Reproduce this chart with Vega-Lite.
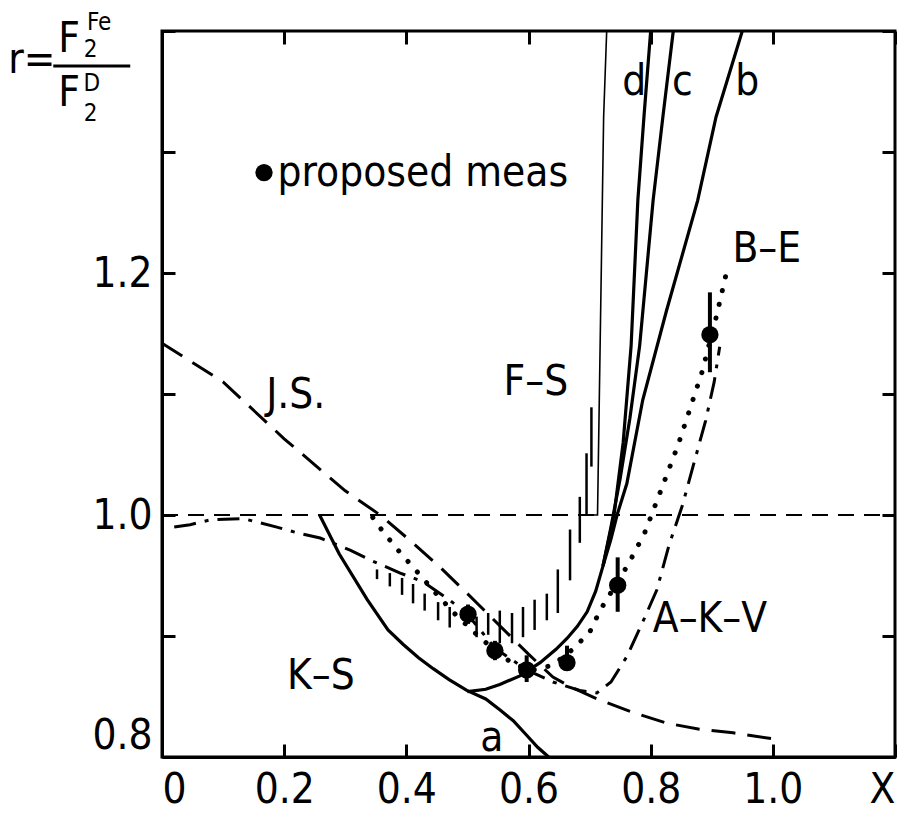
{
  "$schema": "https://vega.github.io/schema/vega-lite/v6.json",
  "autosize": "none",
  "width": 733,
  "height": 726,
  "padding": {"left": 162, "top": 31, "right": 9, "bottom": 62},
  "background": "white",
  "config": {
    "view": {"stroke": "black", "strokeWidth": 3},
    "axis": {"grid": false, "domainColor": "black", "domainWidth": 3, "tickColor": "black", "tickWidth": 3, "tickSize": -13, "labelColor": "black", "labelFont": "Liberation Sans Narrow, DejaVu Sans Condensed, Liberation Sans", "labelFontSize": 42, "title": null, "labelOverlap": false, "labelFlush": true},
    "text": {"font": "Liberation Sans Narrow, DejaVu Sans Condensed, Liberation Sans", "color": "black"}
  },
  "datasets": {
    "curves": [
      {"s": "KS", "i": 0, "x": 0.258, "y": 1.0}, {"s": "KS", "i": 1, "x": 0.29, "y": 0.968}, {"s": "KS", "i": 2, "x": 0.336, "y": 0.93}, {"s": "KS", "i": 3, "x": 0.37, "y": 0.905}, {"s": "KS", "i": 4, "x": 0.395, "y": 0.893}, {"s": "KS", "i": 5, "x": 0.42, "y": 0.882}, {"s": "KS", "i": 6, "x": 0.444, "y": 0.873}, {"s": "KS", "i": 7, "x": 0.47, "y": 0.864}, {"s": "KS", "i": 8, "x": 0.499, "y": 0.855}, {"s": "KS", "i": 9, "x": 0.53, "y": 0.848}, {"s": "KS", "i": 10, "x": 0.553, "y": 0.839}, {"s": "KS", "i": 11, "x": 0.575, "y": 0.83}, {"s": "KS", "i": 12, "x": 0.597, "y": 0.818}, {"s": "KS", "i": 13, "x": 0.615, "y": 0.808}, {"s": "KS", "i": 14, "x": 0.633, "y": 0.8},
      {"s": "b", "i": 0, "x": 0.5, "y": 0.854}, {"s": "b", "i": 1, "x": 0.53, "y": 0.856}, {"s": "b", "i": 2, "x": 0.553, "y": 0.86}, {"s": "b", "i": 3, "x": 0.586, "y": 0.867}, {"s": "b", "i": 4, "x": 0.619, "y": 0.878}, {"s": "b", "i": 5, "x": 0.645, "y": 0.889}, {"s": "b", "i": 6, "x": 0.663, "y": 0.898}, {"s": "b", "i": 7, "x": 0.68, "y": 0.908}, {"s": "b", "i": 8, "x": 0.696, "y": 0.92}, {"s": "b", "i": 9, "x": 0.71, "y": 0.937}, {"s": "b", "i": 10, "x": 0.722, "y": 0.958}, {"s": "b", "i": 11, "x": 0.735, "y": 0.98}, {"s": "b", "i": 12, "x": 0.745, "y": 1.0}, {"s": "b", "i": 13, "x": 0.761, "y": 1.026}, {"s": "b", "i": 14, "x": 0.787, "y": 1.095}, {"s": "b", "i": 15, "x": 0.826, "y": 1.169}, {"s": "b", "i": 16, "x": 0.877, "y": 1.26}, {"s": "b", "i": 17, "x": 0.907, "y": 1.329}, {"s": "b", "i": 18, "x": 0.95, "y": 1.4},
      {"s": "c", "i": 0, "x": 0.722, "y": 0.958}, {"s": "c", "i": 1, "x": 0.735, "y": 0.99}, {"s": "c", "i": 2, "x": 0.75, "y": 1.03}, {"s": "c", "i": 3, "x": 0.766, "y": 1.08}, {"s": "c", "i": 4, "x": 0.782, "y": 1.14}, {"s": "c", "i": 5, "x": 0.804, "y": 1.26}, {"s": "c", "i": 6, "x": 0.82, "y": 1.329}, {"s": "c", "i": 7, "x": 0.837, "y": 1.4},
      {"s": "d", "i": 0, "x": 0.722, "y": 0.958}, {"s": "d", "i": 1, "x": 0.74, "y": 1.0}, {"s": "d", "i": 2, "x": 0.755, "y": 1.06}, {"s": "d", "i": 3, "x": 0.768, "y": 1.14}, {"s": "d", "i": 4, "x": 0.779, "y": 1.26}, {"s": "d", "i": 5, "x": 0.789, "y": 1.329}, {"s": "d", "i": 6, "x": 0.8, "y": 1.4}
    ],
    "thin": [
      {"i": 0, "x": 0.697, "y": 1.0}, {"i": 1, "x": 0.713, "y": 1.0}, {"i": 2, "x": 0.723, "y": 1.329}, {"i": 3, "x": 0.728, "y": 1.4}
    ],
    "js": [
      {"i": 0, "x": 0.0, "y": 1.142}, {"i": 1, "x": 0.1, "y": 1.11}, {"i": 2, "x": 0.2, "y": 1.063}, {"i": 3, "x": 0.3, "y": 1.02}, {"i": 4, "x": 0.357, "y": 1.0}, {"i": 5, "x": 0.406, "y": 0.979}, {"i": 6, "x": 0.455, "y": 0.957}, {"i": 7, "x": 0.5, "y": 0.935}, {"i": 8, "x": 0.534, "y": 0.918}, {"i": 9, "x": 0.57, "y": 0.9}, {"i": 10, "x": 0.6, "y": 0.885}, {"i": 11, "x": 0.64, "y": 0.866}, {"i": 12, "x": 0.673, "y": 0.857}, {"i": 13, "x": 0.717, "y": 0.847}, {"i": 14, "x": 0.77, "y": 0.837}, {"i": 15, "x": 0.826, "y": 0.828}, {"i": 16, "x": 0.88, "y": 0.823}, {"i": 17, "x": 0.935, "y": 0.82}, {"i": 18, "x": 1.0, "y": 0.815}
    ],
    "akv": [
      {"i": 0, "x": 0.02, "y": 0.99}, {"i": 1, "x": 0.046, "y": 0.992}, {"i": 2, "x": 0.079, "y": 0.996}, {"i": 3, "x": 0.133, "y": 0.997}, {"i": 4, "x": 0.188, "y": 0.99}, {"i": 5, "x": 0.223, "y": 0.985}, {"i": 6, "x": 0.259, "y": 0.981}, {"i": 7, "x": 0.308, "y": 0.971}, {"i": 8, "x": 0.34, "y": 0.963}, {"i": 9, "x": 0.39, "y": 0.952}, {"i": 10, "x": 0.427, "y": 0.945}, {"i": 11, "x": 0.47, "y": 0.93}, {"i": 12, "x": 0.5, "y": 0.918}, {"i": 13, "x": 0.545, "y": 0.89}, {"i": 14, "x": 0.597, "y": 0.872}, {"i": 15, "x": 0.64, "y": 0.862}, {"i": 16, "x": 0.684, "y": 0.855}, {"i": 17, "x": 0.712, "y": 0.853}, {"i": 18, "x": 0.735, "y": 0.862}, {"i": 19, "x": 0.761, "y": 0.883}, {"i": 20, "x": 0.79, "y": 0.915}, {"i": 21, "x": 0.81, "y": 0.938}, {"i": 22, "x": 0.83, "y": 0.975}, {"i": 23, "x": 0.852, "y": 1.008}, {"i": 24, "x": 0.872, "y": 1.045}, {"i": 25, "x": 0.89, "y": 1.078}, {"i": 26, "x": 0.904, "y": 1.11}, {"i": 27, "x": 0.913, "y": 1.139}
    ],
    "be": [
      {"i": 0, "x": 0.345, "y": 0.998}, {"i": 1, "x": 0.362, "y": 0.986}, {"i": 2, "x": 0.393, "y": 0.967}, {"i": 3, "x": 0.411, "y": 0.957}, {"i": 4, "x": 0.447, "y": 0.936}, {"i": 5, "x": 0.48, "y": 0.918}, {"i": 6, "x": 0.52, "y": 0.899}, {"i": 7, "x": 0.55, "y": 0.886}, {"i": 8, "x": 0.578, "y": 0.876}, {"i": 9, "x": 0.61, "y": 0.872}, {"i": 10, "x": 0.64, "y": 0.876}, {"i": 11, "x": 0.67, "y": 0.888}, {"i": 12, "x": 0.7, "y": 0.903}, {"i": 13, "x": 0.717, "y": 0.921}, {"i": 14, "x": 0.74, "y": 0.94}, {"i": 15, "x": 0.763, "y": 0.959}, {"i": 16, "x": 0.79, "y": 0.985}, {"i": 17, "x": 0.815, "y": 1.018}, {"i": 18, "x": 0.845, "y": 1.058}, {"i": 19, "x": 0.871, "y": 1.098}, {"i": 20, "x": 0.884, "y": 1.118}, {"i": 21, "x": 0.908, "y": 1.165}, {"i": 22, "x": 0.923, "y": 1.198}
    ],
    "unity": [{"i": 0, "x": 0.0, "y": 1.0}, {"i": 1, "x": 1.2, "y": 1.0}],
    "hatch": [
      {"x": 0.352, "lo": 0.947, "hi": 0.955}, {"x": 0.373, "lo": 0.941, "hi": 0.952}, {"x": 0.393, "lo": 0.934, "hi": 0.948}, {"x": 0.411, "lo": 0.927, "hi": 0.943}, {"x": 0.43, "lo": 0.921, "hi": 0.935}, {"x": 0.452, "lo": 0.913, "hi": 0.928}, {"x": 0.471, "lo": 0.907, "hi": 0.924}, {"x": 0.515, "lo": 0.899, "hi": 0.916}, {"x": 0.534, "lo": 0.901, "hi": 0.919}, {"x": 0.553, "lo": 0.894, "hi": 0.921}, {"x": 0.573, "lo": 0.894, "hi": 0.919}, {"x": 0.591, "lo": 0.899, "hi": 0.924}, {"x": 0.61, "lo": 0.905, "hi": 0.93}, {"x": 0.63, "lo": 0.913, "hi": 0.935}, {"x": 0.648, "lo": 0.919, "hi": 0.955}, {"x": 0.668, "lo": 0.946, "hi": 0.988}, {"x": 0.684, "lo": 0.977, "hi": 1.015}, {"x": 0.695, "lo": 1.0, "hi": 1.051}, {"x": 0.703, "lo": 1.04, "hi": 1.089}
    ],
    "meas": [
      {"x": 0.501, "y": 0.918, "lo": 0.91, "hi": 0.926}, {"x": 0.545, "y": 0.888, "lo": 0.88, "hi": 0.896}, {"x": 0.597, "y": 0.872, "lo": 0.862, "hi": 0.884}, {"x": 0.663, "y": 0.878, "lo": 0.872, "hi": 0.892}, {"x": 0.746, "y": 0.942, "lo": 0.92, "hi": 0.965}, {"x": 0.897, "y": 1.149, "lo": 1.118, "hi": 1.184}, {"x": 0.167, "y": 1.283, "lo": 1.283, "hi": 1.283}
    ],
    "labels": [
      {"x": 0.427, "y": 1.283, "t": "proposed meas"},
      {"x": 0.219, "y": 1.099, "t": "J.S."},
      {"x": 0.612, "y": 1.11, "t": "F–S"},
      {"x": 0.26, "y": 0.867, "t": "K–S"},
      {"x": 0.897, "y": 0.914, "t": "A–K–V"},
      {"x": 0.99, "y": 1.22, "t": "B–E"},
      {"x": 0.54, "y": 0.816, "t": "a"},
      {"x": 0.958, "y": 1.358, "t": "b"},
      {"x": 0.852, "y": 1.358, "t": "c"},
      {"x": 0.773, "y": 1.358, "t": "d"},
      {"x": -0.213, "y": 1.376, "t": "r="},
      {"x": -0.152, "y": 1.393, "t": "F"},
      {"x": -0.152, "y": 1.349, "t": "F"}
    ],
    "small": [
      {"x": -0.117, "y": 1.384, "t": "2"},
      {"x": -0.103, "y": 1.407, "t": "Fe"},
      {"x": -0.117, "y": 1.331, "t": "2"},
      {"x": -0.115, "y": 1.356, "t": "D"}
    ],
    "bar": [{"x": -0.178, "x2": -0.052, "y": 1.371}]
  },
  "layer": [
    {
      "data": {"name": "unity"},
      "mark": {"type": "line", "stroke": "black", "strokeWidth": 2, "strokeDash": [16, 10]},
      "encoding": {
        "x": {"field": "x", "type": "quantitative", "scale": {"domain": [0, 1.2], "nice": false, "zero": false}, "axis": {"orient": "bottom", "values": [0, 0.2, 0.4, 0.6, 0.8, 1.0, 1.2], "labelPadding": 25, "labelExpr": "datum.value == 1.2 ? 'X' : (datum.value == 0 ? '0' : format(datum.value, '.1f'))"}},
        "y": {"field": "y", "type": "quantitative", "scale": {"domain": [0.8, 1.4], "nice": false, "zero": false}, "axis": {"orient": "left", "values": [0.8, 0.9, 1.0, 1.1, 1.2, 1.3, 1.4], "labelPadding": 23, "labelExpr": "(abs(datum.value - 0.8) < 0.001 || abs(datum.value - 1.0) < 0.001 || abs(datum.value - 1.2) < 0.001) ? format(datum.value, '.1f') : ''"}},
        "order": {"field": "i"}
      }
    },
    {
      "data": {"name": "js"},
      "mark": {"type": "line", "stroke": "black", "strokeWidth": 3, "strokeDash": [24, 12]},
      "encoding": {
        "x": {"field": "x", "type": "quantitative", "axis": {"orient": "top", "values": [0, 0.2, 0.4, 0.6, 0.8, 1.0, 1.2], "labels": false, "domain": false}},
        "y": {"field": "y", "type": "quantitative", "axis": {"orient": "right", "values": [0.8, 0.9, 1.0, 1.1, 1.2, 1.3, 1.4], "labels": false, "domain": false}},
        "order": {"field": "i"}
      }
    },
    {
      "data": {"name": "akv"},
      "mark": {"type": "line", "stroke": "black", "strokeWidth": 3, "strokeDash": [22, 9, 4, 9]},
      "encoding": {
        "x": {"field": "x", "type": "quantitative", "axis": null},
        "y": {"field": "y", "type": "quantitative", "axis": null},
        "order": {"field": "i"}
      }
    },
    {
      "data": {"name": "be"},
      "mark": {"type": "line", "stroke": "black", "strokeWidth": 5, "strokeCap": "round", "strokeDash": [0.1, 14]},
      "encoding": {
        "x": {"field": "x", "type": "quantitative", "axis": null},
        "y": {"field": "y", "type": "quantitative", "axis": null},
        "order": {"field": "i"}
      }
    },
    {
      "data": {"name": "curves"},
      "mark": {"type": "line", "stroke": "black", "strokeWidth": 3.2, "clip": true},
      "encoding": {
        "x": {"field": "x", "type": "quantitative", "axis": null},
        "y": {"field": "y", "type": "quantitative", "axis": null},
        "detail": {"field": "s"},
        "order": {"field": "i"}
      }
    },
    {
      "data": {"name": "thin"},
      "mark": {"type": "line", "stroke": "black", "strokeWidth": 1.6},
      "encoding": {
        "x": {"field": "x", "type": "quantitative", "axis": null},
        "y": {"field": "y", "type": "quantitative", "axis": null},
        "order": {"field": "i"}
      }
    },
    {
      "data": {"name": "hatch"},
      "mark": {"type": "rule", "stroke": "black", "strokeWidth": 2.5},
      "encoding": {
        "x": {"field": "x", "type": "quantitative", "axis": null},
        "y": {"field": "lo", "type": "quantitative", "axis": null},
        "y2": {"field": "hi"}
      }
    },
    {
      "data": {"name": "meas"},
      "mark": {"type": "rule", "stroke": "black", "strokeWidth": 4},
      "encoding": {
        "x": {"field": "x", "type": "quantitative", "axis": null},
        "y": {"field": "lo", "type": "quantitative", "axis": null},
        "y2": {"field": "hi"}
      }
    },
    {
      "data": {"name": "meas"},
      "mark": {"type": "point", "filled": true, "color": "black", "opacity": 1, "size": 300},
      "encoding": {
        "x": {"field": "x", "type": "quantitative", "axis": null},
        "y": {"field": "y", "type": "quantitative", "axis": null}
      }
    },
    {
      "data": {"name": "labels"},
      "mark": {"type": "text", "fontSize": 42, "align": "center", "baseline": "middle", "clip": false},
      "encoding": {
        "x": {"field": "x", "type": "quantitative", "axis": null},
        "y": {"field": "y", "type": "quantitative", "axis": null},
        "text": {"field": "t"}
      }
    },
    {
      "data": {"name": "small"},
      "mark": {"type": "text", "fontSize": 24, "align": "center", "baseline": "middle"},
      "encoding": {
        "x": {"field": "x", "type": "quantitative", "axis": null},
        "y": {"field": "y", "type": "quantitative", "axis": null},
        "text": {"field": "t"}
      }
    },
    {
      "data": {"name": "bar"},
      "mark": {"type": "rule", "stroke": "black", "strokeWidth": 3},
      "encoding": {
        "x": {"field": "x", "type": "quantitative", "axis": null},
        "x2": {"field": "x2"},
        "y": {"field": "y", "type": "quantitative", "axis": null}
      }
    }
  ],
  "resolve": {"axis": {"x": "independent", "y": "independent"}}
}
